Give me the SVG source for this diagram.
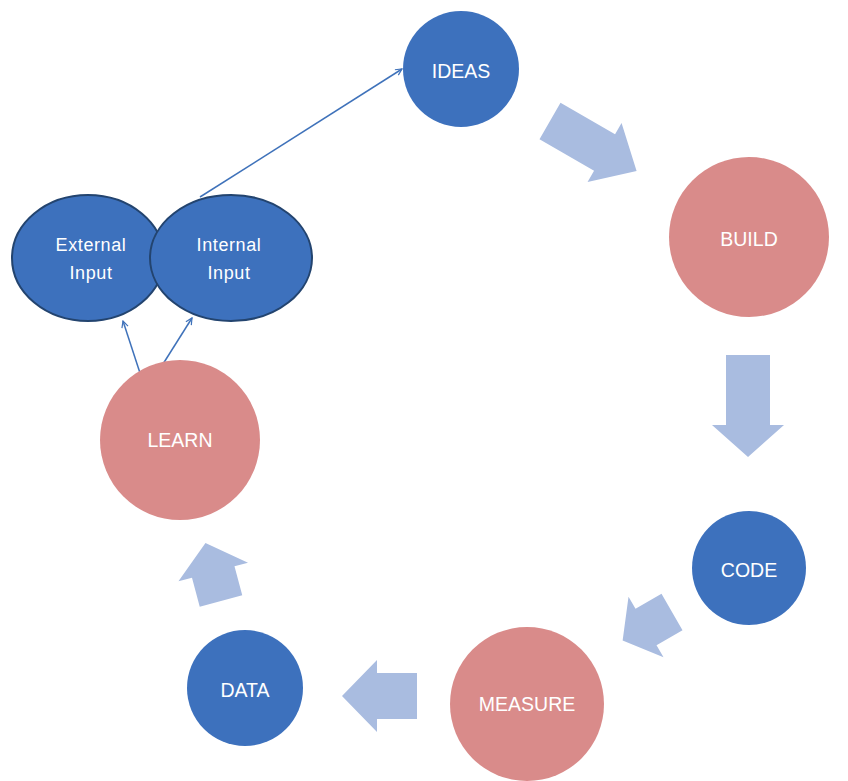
<svg xmlns="http://www.w3.org/2000/svg" width="848" height="781" viewBox="0 0 848 781">
<style>
.blue{fill:#3D71BD}
.pink{fill:#D98B8A}
.inp{fill:#3D71BD;stroke:#23446F;stroke-width:2}
.lbl{font-family:"Liberation Sans",Arial,sans-serif;font-size:19.5px;fill:#fff;text-anchor:middle;dominant-baseline:central}
.sl{font-size:18px;letter-spacing:0.6px}
.blk{fill:#A9BCE0}
.con{stroke:#3F72BA;stroke-width:1.5;fill:none;marker-end:url(#ah)}
</style>
<defs>
<marker id="ah" viewBox="0 0 10 10" refX="9" refY="5" markerWidth="8" markerHeight="8" markerUnits="userSpaceOnUse" orient="auto">
<path d="M1,1 L9,5 L1,9" fill="none" stroke="#3F72BA" stroke-width="1.5"/>
</marker>
</defs>
<rect width="848" height="781" fill="#fff"/>
<g id="block-arrows">
<polygon class="blk" transform="translate(550,121) rotate(30)" points="0,-21 63,-21 63,-34 100,0 63,34 63,21 0,21"/>
<polygon class="blk" transform="translate(748,355) rotate(90)" points="0,-22 70,-22 70,-36 102,0 70,36 70,22 0,22"/>
<polygon class="blk" transform="translate(672,612) rotate(150)" points="0,-21 30,-21 30,-35 57,0 30,35 30,21 0,21"/>
<polygon class="blk" transform="translate(417,696) rotate(180)" points="0,-23 40,-23 40,-36 75,0 40,36 40,23 0,23"/>
<polygon class="blk" transform="translate(221,601) rotate(-105)" points="0,-22 30,-22 30,-36 60,0 30,36 30,22 0,22"/>
</g>
<g id="connectors">
<line class="con" x1="200" y1="197" x2="402" y2="69"/>
<line class="con" x1="140" y1="373" x2="123" y2="321"/>
<line class="con" x1="163" y1="364" x2="192" y2="318"/>
</g>
<g id="ideas"><circle class="blue" cx="461" cy="69" r="58"/><text class="lbl" x="461" y="71">IDEAS</text></g>
<g id="build"><circle class="pink" cx="749" cy="237" r="80"/><text class="lbl" x="749" y="239">BUILD</text></g>
<g id="code"><circle class="blue" cx="749" cy="568" r="57"/><text class="lbl" x="749" y="570">CODE</text></g>
<g id="measure"><circle class="pink" cx="527" cy="704" r="77"/><text class="lbl" x="527" y="704">MEASURE</text></g>
<g id="data"><circle class="blue" cx="245" cy="688" r="58"/><text class="lbl" x="245" y="690">DATA</text></g>
<g id="learn"><circle class="pink" cx="180" cy="440" r="80"/><text class="lbl" x="180" y="440">LEARN</text></g>
<g id="external-input"><ellipse class="inp" cx="88" cy="258" rx="76" ry="63"/><text class="lbl sl" x="91" y="245">External</text><text class="lbl sl" x="91" y="273">Input</text></g>
<g id="internal-input"><ellipse class="inp" cx="231" cy="258" rx="81" ry="63"/><text class="lbl sl" x="229" y="245">Internal</text><text class="lbl sl" x="229" y="273">Input</text></g>
</svg>
